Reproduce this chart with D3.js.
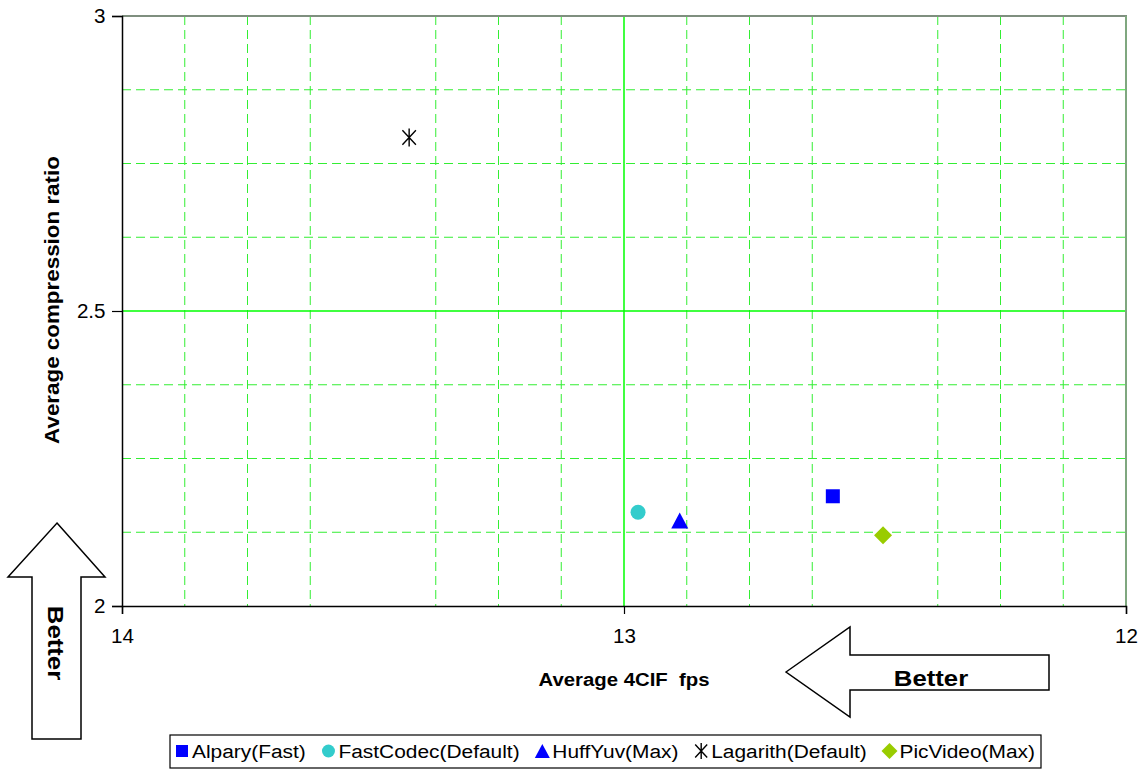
<!DOCTYPE html>
<html><head><meta charset="utf-8">
<script src="https://cdn.jsdelivr.net/npm/d3@7"></script>
<style>
html,body{margin:0;padding:0;background:#fff;}
svg{display:block;font-family:"Liberation Sans",Arial,sans-serif;}
text{white-space:pre;}
</style></head>
<body><svg id="c" width="1141" height="769"></svg>
<script>
const categories = ["Alpary(Fast)","FastCodec(Default)","HuffYuv(Max)","Lagarith(Default)","PicVideo(Max)"];
const fpsValues = [12.584, 12.972, 12.889, 13.428, 12.484];
const ratioValues = [2.186, 2.159, 2.145, 2.794, 2.120];
const symbols = ["square","circle","triangle","asterisk","diamond"];
const colors = ["#0000ff","#33cccc","#0000ff","#000000","#99cc00"];
const xTicks = [14, 13, 12];
const yTicks = [2, 2.5, 3];
const xTitle = "Average 4CIF  fps";
const yTitle = "Average compression ratio";
const arrowLabel = "Better";

const svg = d3.select("#c");
const L=122, R=1126, T=16, B=606;
const x = d3.scaleLinear().domain([14,12]).range([L,R]);
const y = d3.scaleLinear().domain([2,3]).range([B,T]);

function addText(parent, tx, ty, rot, k, txt, size, weight, anchor){
  return parent.append("text")
    .attr("transform",`translate(${tx},${ty}) rotate(${rot}) scale(${k},1)`)
    .attr("text-anchor",anchor).attr("font-size",size).attr("font-weight",weight)
    .attr("fill","#000").text(txt);
}

// minor dashed gridlines
const minorX = d3.range(14, 11.99, -0.125).filter(v => Math.abs(v*2 - Math.round(v*2))>1e-6);
const minorY = d3.range(2, 3.001, 0.125).filter(v => Math.abs(v*2 - Math.round(v*2))>1e-6);
const g = svg.append("g");
g.selectAll(".mx").data(minorX).join("line")
  .attr("x1",d=>x(d)).attr("x2",d=>x(d)).attr("y1",T).attr("y2",B)
  .attr("stroke","#33ee33").attr("stroke-width",1).attr("stroke-dasharray","9,5");
g.selectAll(".my").data(minorY).join("line")
  .attr("x1",L).attr("x2",R).attr("y1",d=>y(d)).attr("y2",d=>y(d))
  .attr("stroke","#33ee33").attr("stroke-width",1).attr("stroke-dasharray","9,5");
g.append("line").attr("x1",x(13)).attr("x2",x(13)).attr("y1",T).attr("y2",B).attr("stroke","#00ff00").attr("stroke-width",1.5);
g.append("line").attr("x1",L).attr("x2",R).attr("y1",y(2.5)).attr("y2",y(2.5)).attr("stroke","#00ff00").attr("stroke-width",1.5);
g.append("line").attr("x1",L).attr("x2",R+1).attr("y1",T).attr("y2",T).attr("stroke","#7f8f7f").attr("stroke-width",2);
g.append("line").attr("x1",R).attr("x2",R).attr("y1",T).attr("y2",B).attr("stroke","#7fa77f").attr("stroke-width",2);

// axes
const xAxis = d3.axisBottom(x).tickValues(xTicks).tickSize(8).tickPadding(15).tickFormat(d3.format("d"));
const yAxis = d3.axisLeft(y).tickValues(yTicks).tickSize(10).tickPadding(6).tickFormat(d=>String(d));
const gx = svg.append("g").attr("transform",`translate(0,${B})`).call(xAxis);
const gy = svg.append("g").attr("transform",`translate(${L},0)`).call(yAxis);
[gx,gy].forEach(a=>{
  a.select(".domain").attr("stroke","#000").attr("stroke-width",1.5);
  a.selectAll(".tick line").attr("stroke","#000").attr("stroke-width",1.2);
  a.selectAll(".tick text").attr("font-size",20).attr("fill","#000")
    .attr("font-family","Liberation Sans, Arial").attr("transform","scale(1.03,1)");
});

// axis titles
addText(svg, 624, 686, 0, 1.1, xTitle, 18.5, "bold", "middle");
addText(svg, 59, 300, -90, 1.12, yTitle, 20, "bold", "middle");

// arrows
svg.append("path").attr("d","M57,523 L105,577 L81,577 L81,739 L32,739 L32,577 L8,577 Z")
  .attr("fill","#fff").attr("stroke","#000").attr("stroke-width",1.5);
addText(svg, 48, 643, 90, 1.12, arrowLabel, 23, "bold", "middle");
svg.append("path").attr("d","M786,672 L850,627 L850,655 L1049,655 L1049,690 L850,690 L850,717 Z")
  .attr("fill","#fff").attr("stroke","#000").attr("stroke-width",1.5);
addText(svg, 931, 686, 0, 1.12, arrowLabel, 23, "bold", "middle");

// markers
function drawSymbol(sel, type, color, s){
  if(type==="square") sel.append("rect").attr("x",-s/2).attr("y",-s/2).attr("width",s).attr("height",s).attr("fill",color);
  else if(type==="circle") sel.append("circle").attr("r",s/2+0.5).attr("fill",color);
  else if(type==="triangle") sel.append("path").attr("d",`M0,${-s/2-1} L${s/2+1.5},${s/2+1} L${-s/2-1.5},${s/2+1} Z`).attr("fill",color);
  else if(type==="diamond") sel.append("path").attr("d",`M0,${-s/2-2} L${s/2+2},0 L0,${s/2+2} L${-s/2-2},0 Z`).attr("fill",color);
  else if(type==="asterisk"){
    const h=s/2+2;
    sel.append("path").attr("d",`M${-h*0.75},${-h*0.8} L${h*0.75},${h*0.8} M${h*0.75},${-h*0.8} L${-h*0.75},${h*0.8} M0,${-h} L0,${h}`)
      .attr("stroke",color).attr("stroke-width",1.4).attr("fill","none");
  }
}
const pts = categories.map((c,i)=>({c, fx:fpsValues[i], r:ratioValues[i], s:symbols[i], col:colors[i]}));
svg.append("g").selectAll("g").data(pts).join("g")
  .attr("transform",d=>`translate(${x(d.fx)},${y(d.r)})`)
  .each(function(d){ drawSymbol(d3.select(this), d.s, d.col, 14); });

// legend
const lg = svg.append("g");
const LX0=170, LX1=1041;
lg.append("rect").attr("x",LX0).attr("y",735).attr("width",LX1-LX0).attr("height",33).attr("fill","#fff").attr("stroke","#000").attr("stroke-width",1.2);
const KL = 1.1, symW = 16;
const items = pts.map(d=>{
  const ig = lg.append("g");
  drawSymbol(ig.append("g").attr("transform","translate(6,0)"), d.s, d.col, 12);
  const t = addText(ig, symW, 7, 0, KL, d.c, 19, "normal", "start");
  return {ig, w: symW + t.node().getComputedTextLength()*KL};
});
const total = d3.sum(items, d=>d.w);
const gap = (LX1-LX0-12 - total)/(items.length-1);
let cx = LX0+6;
items.forEach(it=>{ it.ig.attr("transform",`translate(${cx},751)`); cx += it.w + gap; });
</script></body></html>
